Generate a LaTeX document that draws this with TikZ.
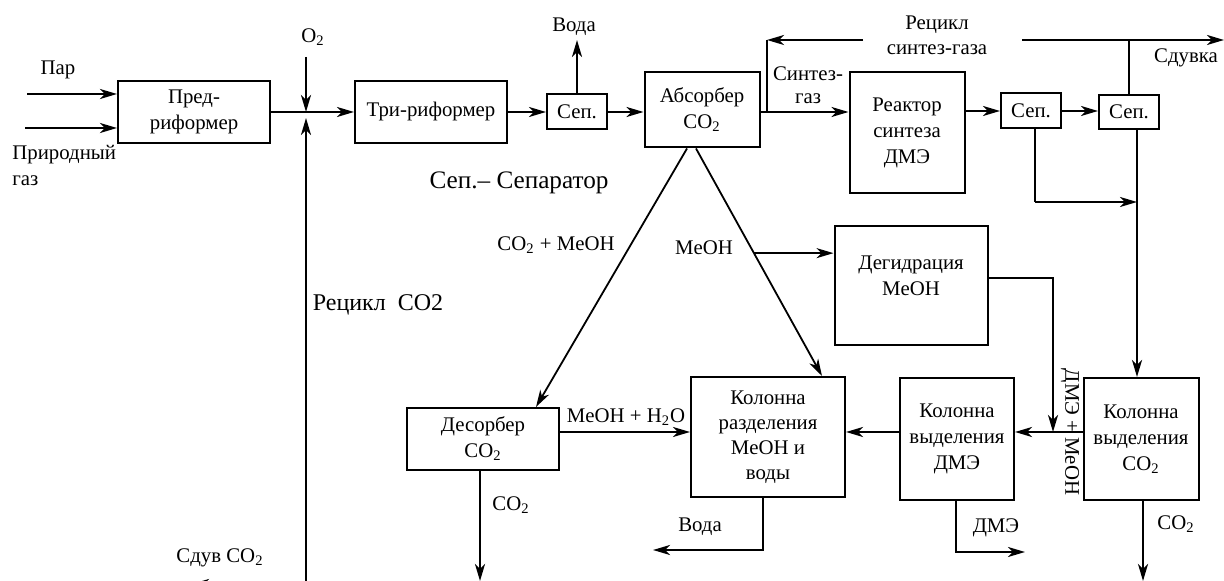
\documentclass[tikz,border=0pt]{standalone}
\usepackage{fontspec}
\setmainfont{Liberation Serif}
\usetikzlibrary{arrows.meta,calc}
\newcommand{\COd}{CO\textsubscript{2}}

\begin{document}
\begin{tikzpicture}[x=0.5pt,y=-0.5pt,font=\fontsize{10.4}{13}\selectfont,
		box/.style 2 args={draw,line width=1pt,minimum width=#1,minimum height=#2,align=center,inner sep=0pt},
		arr/.style={line width=1.2pt,-{Stealth[length=8.5pt,width=5pt,inset=2.5pt]}},
		ln/.style={line width=1.2pt},
		diag/.style={arr,line width=0.9pt},
		lbl/.style={align=center,inner sep=0pt}]
		\useasboundingbox (0,0) rectangle (1224,581);
		\clip (0,0) rectangle (1224,581);
		% boxes
		\node [box={76pt}{31pt}] (prerf) at (194,112) {Пред-\\риформер};
		\node [box={76pt}{31pt}] (trirf) at (431,112) {Три-риформер};
		\node [box={30pt}{17.5pt}] (sep1) at (577,112) {Сеп.};
		\node [box={57.5pt}{37.5pt}] (absorb) at (702,110) {Абсорбер\\\COd};
		\node [box={57.5pt}{60.5pt}] (reactor) at (907,133) {Реактор\\синтеза\\ДМЭ};
		\node [box={30pt}{17.5pt}] (sep2) at (1031,111) {Сеп.};
		\node [box={30pt}{17pt}] (sep3) at (1129,112) {Сеп.};
		\node [box={76.5pt}{59.5pt}] (dehyd) at (911,286) {};
		\node [lbl] (dehydtxt) at (911,276) {Дегидрация\\MeOH};
		\node [box={76pt}{31pt}] (desorb) at (483,439) {Десорбер\\\COd};
		\node [box={77pt}{60pt},font=\fontsize{10.4}{12.5}\selectfont] (sepcol) at (768,437) {Колонна\\разделения\\MeOH и\\воды};
		\node [box={57pt}{61pt}] (dmecol) at (957,439) {Колонна\\выделения\\ДМЭ};
		\node [box={57.5pt}{61pt}] (co2col) at (1141,439) {Колонна\\выделения\\\COd};
		% labels
		\draw (58,70) node [lbl] (par) {Пар};
		\draw (12,165) node [lbl,anchor=west,align=left] (gas) {Природный\\газ};
		\draw (313,37) node [lbl] (o2) {O\textsubscript{2}};
		\draw (574,27) node [lbl] (water1) {Вода};
		\draw (519,183) node [lbl,font=\fontsize{12.6}{15}\selectfont] (legend) {Сеп.– Сепаратор};
		\draw (378,305) node [lbl,font=\fontsize{12}{14}\selectfont] (recco2) {Рецикл~~CO2};
		\draw (808,85) node [lbl,font=\fontsize{10.4}{11.5}\selectfont] (sglab) {Синтез-\\газ};
		\draw (937,35) node [lbl,font=\fontsize{10.4}{12.5}\selectfont] (recsg) {Рецикл\\синтез-газа};
		\draw (1186,58) node [lbl] (blow) {Сдувка};
		\draw (556,245) node [lbl] (co2meoh) {\COd{} + MeOH};
		\draw (704,248) node [lbl] (meoh) {MeOH};
		\draw (626,417) node [lbl] (meohh2o) {MeOH + H\textsubscript{2}O};
		\draw (511,505) node [lbl] (dco2lab) {\COd};
		\draw (700,527) node [lbl] (water2) {Вода};
		\draw (996,528) node [lbl] (dmelab) {ДМЭ};
		\draw (1176,524) node [lbl] (co2lab) {\COd};
		\draw (1070,432) node [lbl,rotate=-90] (dmemeoh) {ДМЭ + MeOH};
		\draw (220,558) node [lbl] (vent) {Сдув \COd};
		% free ends and junctions
		\coordinate (parin) at (27,94);
		\coordinate (gasin) at (25,128);
		\coordinate (mix) at (306,112);
		\coordinate (o2in) at (306,57);
		\coordinate (recin) at (306,600);
		\coordinate (waterout) at (577,40);
		\coordinate (sgj) at (767,112);
		\coordinate (recl) at (767,40);
		\coordinate (recr) at (863,40);
		\coordinate (recm) at (1022,40);
		\coordinate (blowout) at (1224,40);
		\coordinate (liq) at (1035,202);
		\coordinate (gasdn) at (1137,202);
		\coordinate (abL) at ($(absorb.south)+(-15,0)$);
		\coordinate (abR) at ($(absorb.south)+(-6,0)$);
		\coordinate (desin) at ($(desorb.north)+(53,0)$);
		\coordinate (colin) at ($(sepcol.north)+(54,0)$);
		\coordinate (meohj) at ($(abR)!0.46!(colin)$);
		\coordinate (dmec) at (1053,278);
		\coordinate (co2j) at (1053,432);
		\coordinate (dco2) at (480,581);
		\coordinate (wat2) at (763,550);
		\coordinate (wat2out) at (653,550);
		\coordinate (dme2) at (956,552);
		\coordinate (dmeout) at (1025,552);
		\coordinate (co2out) at (1143,581);
		\coordinate (ventj) at (306,584);
		\coordinate (ventout) at (192,584);
		% connectors
		\draw [arr] (parin) -- (parin -| prerf.west);
		\draw [arr] (gasin) -- (gasin -| prerf.west);
		\draw [ln] (prerf.east) -- (mix);
		\draw [arr] (mix) -- (trirf.west);
		\draw [arr] (o2in) -- (mix);
		\draw [arr,shorten >=3pt] (recin) -- (mix);
		\draw [arr] (trirf.east) -- (sep1.west);
		\draw [arr] (sep1.north) -- (waterout);
		\draw [arr] (sep1.east) -- (sep1.east -| absorb.west);
		\draw [arr] (sgj -| absorb.east) -- (sgj -| reactor.west);
		\draw [ln] (sgj) -- (recl);
		\draw [arr] (recr) -- (recl);
		\draw [arr] (recm) -- (blowout);
		\draw [ln] (sep3.north) -- (sep3.north |- recm);
		\draw [arr] (sep2.west -| reactor.east) -- (sep2.west);
		\draw [arr] (sep2.east) -- (sep2.east -| sep3.west);
		\draw [ln] (sep2.south -| liq) -- (liq);
		\draw [arr] (liq) -- (gasdn);
		\draw [arr] (sep3.south -| gasdn) -- (gasdn |- co2col.north);
		\draw [diag] (abL) -- (desin);
		\draw [diag] (abR) -- (colin);
		\draw [arr] (meohj) -- (meohj -| dehyd.west);
		\draw [arr] (dehyd.east |- dmec) -- (dmec) -- (co2j);
		\draw [arr] (co2col.west |- co2j) -- (dmecol.east |- co2j);
		\draw [arr] (dmecol.west |- co2j) -- (sepcol.east |- co2j);
		\draw [arr] (desorb.east |- co2j) -- (sepcol.west |- co2j);
		\draw [arr] (desorb.south -| dco2) -- (dco2);
		\draw [arr] (sepcol.south -| wat2) -- (wat2) -- (wat2out);
		\draw [arr] (dmecol.south -| dme2) -- (dme2) -- (dmeout);
		\draw [arr] (co2col.south -| co2out) -- (co2out);
		\draw [arr] (ventj) -- (ventout);
	\end{tikzpicture}
\end{document}
